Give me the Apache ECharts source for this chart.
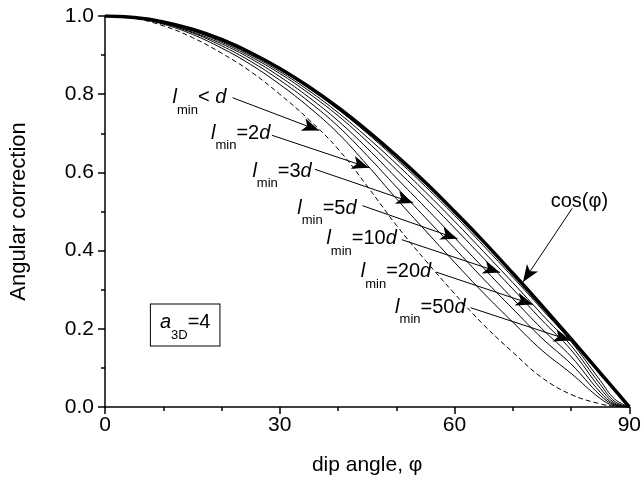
<!DOCTYPE html>
<html><head><meta charset="utf-8">
<script src="https://cdn.jsdelivr.net/npm/echarts@6/dist/echarts.min.js"></script>
<style>html,body{margin:0;padding:0;background:#fff}#c{width:644px;height:481px}</style>
</head><body><div id="c"></div>
<script>
const angles = [0,5,10,15,20,25,30,35,40,45,50,55,60,65,70,75,80,85,87.5,90];
const cosPhi = [1.000,0.996,0.985,0.966,0.940,0.906,0.866,0.819,0.766,0.707,0.643,0.574,0.500,0.423,0.342,0.259,0.174,0.087,0.044,0];
const lminBelowD = [1.000,0.994,0.975,0.945,0.905,0.858,0.800,0.735,0.660,0.565,0.465,0.375,0.290,0.210,0.140,0.075,0.032,0.008,0.002,0];
const lmin2d = [1,0.995,0.979,0.953,0.918,0.876,0.825,0.767,0.700,0.619,0.533,0.451,0.370,0.291,0.217,0.145,0.086,0.022,0.003,0];
const lmin3d = [1,0.995,0.981,0.957,0.924,0.884,0.836,0.781,0.718,0.643,0.563,0.484,0.406,0.327,0.251,0.176,0.110,0.030,0.005,0];
const lmin5d = [1,0.995,0.982,0.959,0.929,0.891,0.845,0.792,0.732,0.662,0.586,0.510,0.433,0.355,0.277,0.200,0.129,0.038,0.007,0];
const lmin10d = [1,0.996,0.983,0.962,0.933,0.896,0.853,0.802,0.745,0.679,0.607,0.534,0.458,0.380,0.302,0.222,0.146,0.048,0.010,0];
const lmin20d = [1,0.996,0.984,0.963,0.936,0.900,0.858,0.809,0.753,0.690,0.622,0.550,0.475,0.397,0.318,0.237,0.157,0.058,0.014,0];
const lmin50d = [1,0.996,0.985,0.965,0.938,0.904,0.863,0.815,0.761,0.700,0.634,0.564,0.490,0.412,0.332,0.250,0.167,0.068,0.020,0];

const xTicks = [0,30,60,90];
const yTicks = [0.0,0.2,0.4,0.6,0.8,1.0];

// annotation labels: text, anchor (data coords of left/middle of main text), arrow from -> to
const labelTexts = ['{i|l}{s|min}{n|< }{i|d}','{i|l}{s|min}{n|=2}{i|d}','{i|l}{s|min}{n|=3}{i|d}','{i|l}{s|min}{n|=5}{i|d}','{i|l}{s|min}{n|=10}{i|d}','{i|l}{s|min}{n|=20}{i|d}','{i|l}{s|min}{n|=50}{i|d}','{n|cos(φ)}'];
const labelAnchors = [[11.6,0.796],[18.2,0.705],[25.3,0.608],[33.0,0.514],[38.0,0.435],[43.9,0.351],[49.8,0.260],[76.5,0.532]];
const arrowFrom = [[21.9,0.791],[28.65,0.695],[36.03,0.608],[44.18,0.515],[50.93,0.428],[56.84,0.345],[62.75,0.254],[80.19,0.508]];
const arrowTo = [[36.75,0.707],[45.31,0.612],[52.91,0.522],[60.51,0.430],[67.81,0.344],[73.44,0.262],[79.92,0.170],[71.75,0.320]];
const boxText = '{i|a}{s|3D}{n|=4}';
const boxAnchor = [7.88,0.262];

const FONT = '"Liberation Sans", Arial, sans-serif';
const rich = {
  i:{fontFamily:FONT,fontSize:20,fontStyle:'italic',lineHeight:22,verticalAlign:'top',color:'#000'},
  n:{fontFamily:FONT,fontSize:20,lineHeight:22,verticalAlign:'top',color:'#000'},
  s:{fontFamily:FONT,fontSize:13,lineHeight:12,padding:[16,0,0,0],verticalAlign:'top',color:'#000'}
};

function pairs(arr){ return angles.map((a,i)=>[a,arr[i]]); }
function thin(name, arr, dashed){
  return {name, type:'line', data:pairs(arr), smooth:0.4, showSymbol:false, symbol:'none',
    lineStyle:{color:'#000', width:1, type: dashed?[5,3]:'solid'}, z:2, silent:true};
}

const chart = echarts.init(document.getElementById('c'), null, {renderer:'canvas'});
const option = {
  animation:false,
  backgroundColor:'#fff',
  grid:{left:103, right:8, top:16, bottom:72, containLabel:false},
  xAxis:{type:'value', min:0, max:90, interval:30,
    name:'dip angle, φ', nameLocation:'middle', nameGap:48,
    nameTextStyle:{fontFamily:FONT, fontSize:21, color:'#000'},
    axisLine:{show:true, onZero:false, lineStyle:{color:'#000', width:1.5}},
    axisTick:{show:true, inside:false, length:7, lineStyle:{color:'#000', width:1.5}},
    minorTick:{show:true, splitNumber:3, length:4, lineStyle:{color:'#000', width:1.5}},
    splitLine:{show:false},
    axisLabel:{fontFamily:FONT, fontSize:21, color:'#000', margin:8,
      customValues:xTicks, formatter:v=>String(v)}},
  yAxis:{type:'value', min:0, max:1, interval:0.2,
    name:'Angular correction', nameLocation:'middle', nameGap:75, nameRotate:90,
    nameTextStyle:{fontFamily:FONT, fontSize:22, color:'#000'},
    axisLine:{show:true, onZero:false, lineStyle:{color:'#000', width:1.5}},
    axisTick:{show:true, inside:false, length:7, lineStyle:{color:'#000', width:1.5}},
    minorTick:{show:true, splitNumber:2, length:4, lineStyle:{color:'#000', width:1.5}},
    splitLine:{show:false},
    axisLabel:{fontFamily:FONT, fontSize:21, color:'#000', margin:11,
      formatter:v=>v.toFixed(1)}},
  series:[
    thin('l_min<d', lminBelowD, true),
    thin('l_min=2d', lmin2d),
    thin('l_min=3d', lmin3d),
    thin('l_min=5d', lmin5d),
    thin('l_min=10d', lmin10d),
    thin('l_min=20d', lmin20d),
    thin('l_min=50d', lmin50d),
    {name:'cos', type:'line', data:pairs(cosPhi), smooth:0.4, showSymbol:false, symbol:'none',
     lineStyle:{color:'#000', width:3.5}, z:3, silent:true,
     markLine:{silent:true, animation:false, symbol:['none','arrow'], symbolSize:[10,17],
       lineStyle:{color:'#000', width:1, type:'solid'}, label:{show:false}, emphasis:{disabled:true},
       data: arrowFrom.map((f,i)=>[{coord:f},{coord:arrowTo[i]}])}}
  ]
};
chart.setOption(option);

const graphics = labelTexts.map((t,i)=>{
  const p = chart.convertToPixel({gridIndex:0}, labelAnchors[i]);
  return {type:'text', x:p[0], y:p[1]+3, z:10, silent:true,
    style:{text:t, rich, align:'left', verticalAlign:'middle'}};
});
const bp = chart.convertToPixel({gridIndex:0}, boxAnchor);
graphics.push({type:'text', x:bp[0], y:bp[1], z:10, silent:true,
  style:{text:boxText, rich, align:'left', verticalAlign:'top', borderColor:'#000', borderWidth:1,
    padding:[8,9,11,9], backgroundColor:'#fff'}});
chart.setOption({graphic:graphics});
</script>
</body></html>
